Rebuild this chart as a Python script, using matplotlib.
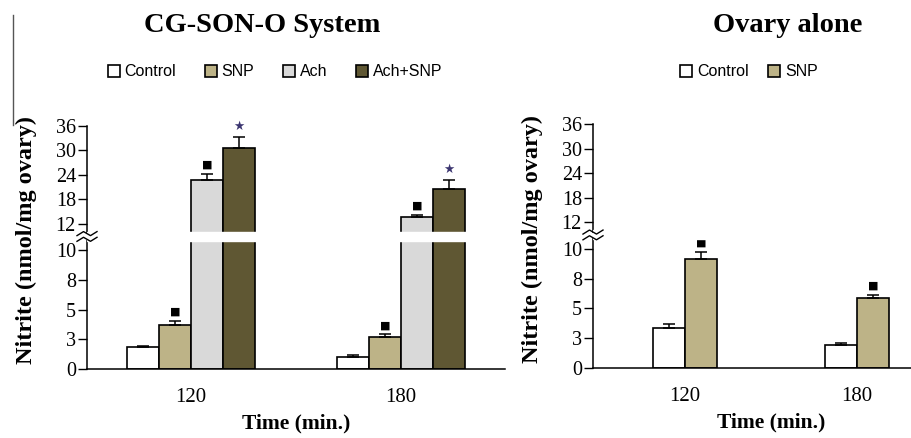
import matplotlib.pyplot as plt
import numpy as np
from matplotlib.lines import Line2D

# data
times = ["120", "180"]

left_groups = ["Control", "SNP", "Ach", "Ach+SNP"]
left_means = {
    "Control": [1.84, 1.02],
    "SNP": [3.68, 2.72],
    "Ach": [22.8, 13.7],
    "Ach+SNP": [30.6, 20.5],
}
left_errs = {
    "Control": [0.14, 0.14],
    "SNP": [0.37, 0.20],
    "Ach": [1.4, 0.5],
    "Ach+SNP": [2.8, 2.3],
}
left_marks = {"SNP": "sq", "Ach": "sq", "Ach+SNP": "star"}

right_groups = ["Control", "SNP"]
right_means = {"Control": [3.36, 1.92], "SNP": [9.14, 5.86]}
right_errs = {"Control": [0.31, 0.14], "SNP": [0.64, 0.28]}
right_marks = {"SNP": "sq"}

ytick_vals = [0, 2.5, 5, 7.5, 10, 12, 18, 24, 30, 36]
ytick_labels = ["0", "3", "5", "8", "10", "12", "18", "24", "30", "36"]

colours = {
    "Control": "white",
    "SNP": "#bdb387",
    "Ach": "#d9d9d9",
    "Ach+SNP": "#5f5733",
}

# broken axis: 0-10 stretched, 12-36 compressed
BRK_V = [0, 10, 12, 36]
BRK_P = [0, 10, 12.25, 20.5]


def fwd(v):
    return np.interp(v, BRK_V, BRK_P)


def inv(p):
    return np.interp(p, BRK_P, BRK_V)


W, H = 912, 438
SERIF = "Liberation Serif"


def px_rect(x0, x1, ytop, ybot):
    return [x0 / W, (H - ybot) / H, (x1 - x0) / W, (ybot - ytop) / H]


def zigzag(ax):
    # little break mark on the y spine
    trans = ax.get_yaxis_transform()
    yb = fwd(11.05)
    xs = np.array([-10, -3.5, 3.5, 10]) / ax.bbox.width
    for dy in (-0.24, 0.24):
        ys = inv(np.array([yb + dy - 0.17, yb + dy + 0.17, yb + dy - 0.17, yb + dy + 0.17]))
        ax.add_line(Line2D(xs, ys, transform=trans, color="black", lw=1,
                           clip_on=False, zorder=6))
    ax.fill_between([-1.5 / ax.bbox.width, 1.5 / ax.bbox.width], inv(yb - 0.2), inv(yb + 0.2),
                    transform=trans, color="white", zorder=5, clip_on=False)


def draw_panel(fig, rect, groups, means, errs, marks, width, xlim, title, title_x, legend_x,
               colspace):
    ax = fig.add_axes(rect)
    ax.set_yscale("function", functions=(fwd, inv))
    x = np.arange(len(times))
    n = len(groups)
    for k, g in enumerate(groups):
        pos = x + (k - (n - 1) / 2) * width
        ax.bar(pos, means[g], width, color=colours[g], edgecolor="black", lw=1.2,
               label=g, zorder=2)
        ax.errorbar(pos, means[g], yerr=[np.zeros(len(times)), errs[g]], fmt="none",
                    ecolor="black", elinewidth=1.1, capsize=4.5, capthick=1.1, zorder=3)
        if g in marks:
            for p, m, e in zip(pos, means[g], errs[g]):
                if marks[g] == "sq":
                    ax.annotate("■", (p, m + e), xytext=(0, 6.5), textcoords="offset points",
                                ha="center", va="center", fontsize=8, family="DejaVu Sans")
                else:
                    ax.annotate("★", (p, m + e), xytext=(0, 7.5), textcoords="offset points",
                                ha="center", va="center", fontsize=9, color="#3b3570",
                                family="DejaVu Sans")

    # white band through tall bars at the break
    ax.axhspan(10.72, 11.42, color="white", zorder=4)

    ax.set_ylim(0, 36)
    ax.set_xlim(*xlim)
    ax.set_yticks(ytick_vals)
    ax.set_yticklabels(ytick_labels, family=SERIF, fontsize=14.5)
    ax.yaxis.set_minor_locator(plt.NullLocator())
    ax.tick_params(axis="y", direction="out", length=6.5, width=1, pad=1.5)
    ax.set_xticks(x)
    ax.set_xticklabels(times, family=SERIF, fontsize=15)
    ax.tick_params(axis="x", length=0, pad=14)
    for s in ("top", "right"):
        ax.spines[s].set_visible(False)
    for s in ("left", "bottom"):
        ax.spines[s].set_linewidth(1.1)

    ax.set_ylabel("Nitrite (nmol/mg ovary)", family=SERIF, fontweight="bold", fontsize=17.5)
    ax.yaxis.set_label_coords(-50 / ax.bbox.width, 0.53)
    ax.set_xlabel("Time (min.)", family=SERIF, fontweight="bold", fontsize=15.5, labelpad=4)

    zigzag(ax)

    fig.text(title_x / W, 1 - 26 / H, title, family=SERIF, fontweight="bold", fontsize=20.5,
             ha="center", va="center")
    ax.legend(loc="center", bbox_to_anchor=(legend_x / W, 1 - 72 / H),
              bbox_transform=fig.transFigure, ncol=n, frameon=False,
              prop={"family": "Liberation Sans", "size": 11.5},
              handlelength=0.75, handleheight=0.75, handletextpad=0.3, columnspacing=colspace,
              borderaxespad=0)
    return ax


def plot():
    fig = plt.figure(figsize=(W / 100, H / 100), dpi=100)
    fig.patch.set_facecolor("white")

    draw_panel(fig, px_rect(87, 505, 126, 369), left_groups, left_means, left_errs,
               left_marks, 0.152, (-0.495, 1.495), "CG-SON-O System", 262, 275, 1.8)
    draw_panel(fig, px_rect(593, 949, 124, 368), right_groups, right_means, right_errs,
               right_marks, 0.186, (-0.535, 1.535), "Ovary alone", 788, 749, 1.2)

    # stray cropping line at the top left of the source figure
    fig.add_artist(Line2D([13 / W, 13 / W], [1 - 15 / H, 1 - 125 / H],
                          transform=fig.transFigure, color="#555555", lw=1))

    plt.savefig("out.png", dpi=100)


if __name__ == "__main__":
    plot()
